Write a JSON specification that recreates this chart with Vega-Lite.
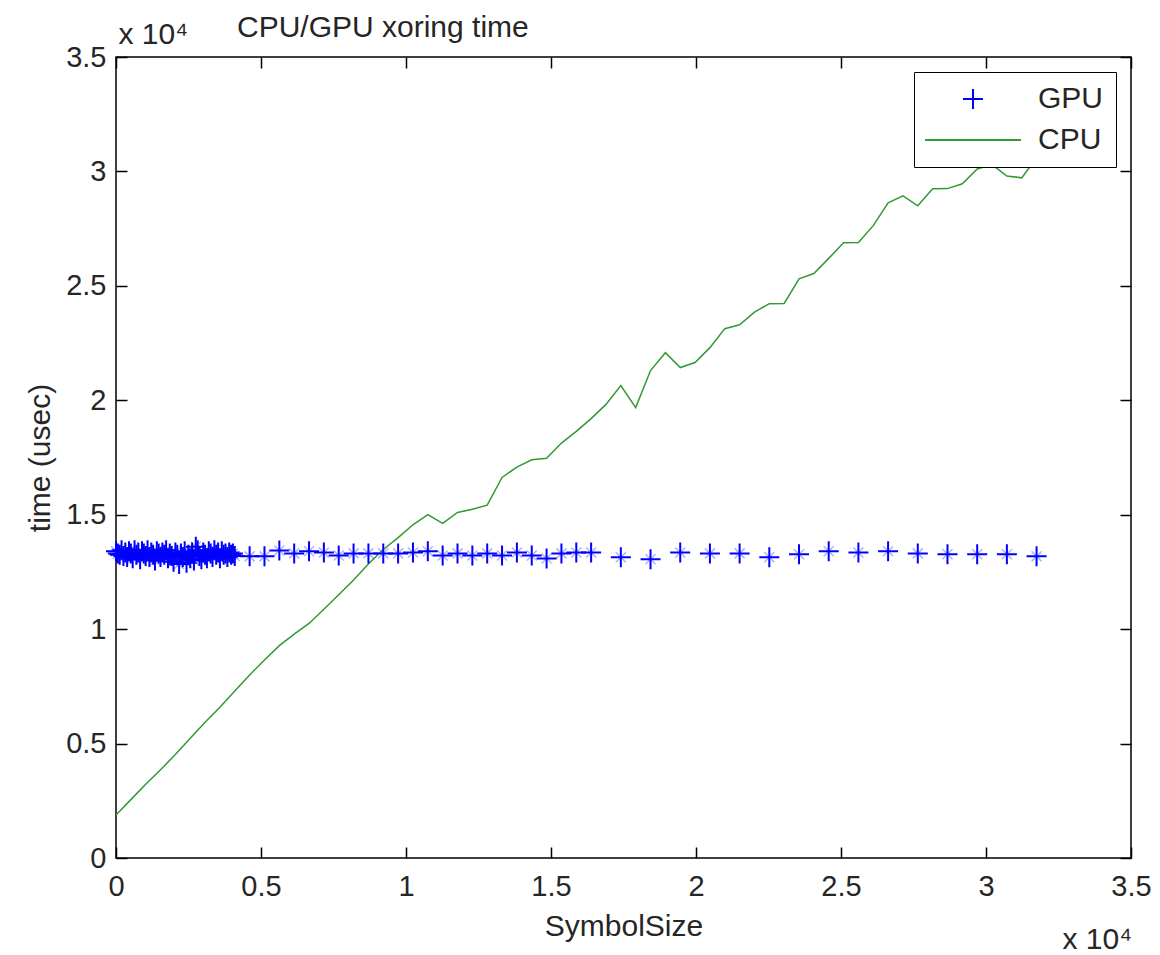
{
  "$schema": "https://vega.github.io/schema/vega-lite/v6.json",
  "width": 1015,
  "height": 801,
  "autosize": {"type": "none"},
  "padding": {"left": 116, "top": 57, "right": 29, "bottom": 97},
  "background": "white",
  "config": {
    "font": "Liberation Sans",
    "view": {"stroke": "black", "strokeWidth": 1.5},
    "axis": {
      "domain": false,
      "grid": false,
      "tickColor": "black",
      "tickWidth": 1.5,
      "tickSize": -11,
      "labelFlush": false,
      "labelFontSize": 29,
      "labelColor": "#262626",
      "titleFontSize": 30,
      "titleFontWeight": "normal",
      "titleColor": "#262626",
      "labelExpr": "datum.value / 10000"
    }
  },
  "title": {
    "text": "CPU/GPU xoring time",
    "anchor": "start",
    "frame": "group",
    "dx": 121,
    "dy": 28,
    "fontSize": 30,
    "fontWeight": "normal",
    "color": "#262626",
    "font": "Liberation Sans"
  },
  "datasets": {
    "gpu": [
      {"size": 0, "time": 13400, "series": "GPU"},
      {"size": 64, "time": 13300, "series": "GPU"},
      {"size": 128, "time": 13250, "series": "GPU"},
      {"size": 192, "time": 13450, "series": "GPU"},
      {"size": 256, "time": 13200, "series": "GPU"},
      {"size": 320, "time": 13350, "series": "GPU"},
      {"size": 384, "time": 13150, "series": "GPU"},
      {"size": 448, "time": 13400, "series": "GPU"},
      {"size": 512, "time": 13300, "series": "GPU"},
      {"size": 576, "time": 13100, "series": "GPU"},
      {"size": 640, "time": 13450, "series": "GPU"},
      {"size": 704, "time": 13250, "series": "GPU"},
      {"size": 768, "time": 13350, "series": "GPU"},
      {"size": 832, "time": 13050, "series": "GPU"},
      {"size": 896, "time": 13400, "series": "GPU"},
      {"size": 960, "time": 13300, "series": "GPU"},
      {"size": 1024, "time": 13200, "series": "GPU"},
      {"size": 1088, "time": 13450, "series": "GPU"},
      {"size": 1152, "time": 13150, "series": "GPU"},
      {"size": 1216, "time": 13350, "series": "GPU"},
      {"size": 1280, "time": 13250, "series": "GPU"},
      {"size": 1344, "time": 13000, "series": "GPU"},
      {"size": 1408, "time": 13400, "series": "GPU"},
      {"size": 1472, "time": 13300, "series": "GPU"},
      {"size": 1536, "time": 13150, "series": "GPU"},
      {"size": 1600, "time": 13350, "series": "GPU"},
      {"size": 1664, "time": 13250, "series": "GPU"},
      {"size": 1728, "time": 13450, "series": "GPU"},
      {"size": 1792, "time": 13100, "series": "GPU"},
      {"size": 1856, "time": 13300, "series": "GPU"},
      {"size": 1920, "time": 13200, "series": "GPU"},
      {"size": 1984, "time": 12950, "series": "GPU"},
      {"size": 2048, "time": 13350, "series": "GPU"},
      {"size": 2112, "time": 13250, "series": "GPU"},
      {"size": 2176, "time": 12850, "series": "GPU"},
      {"size": 2240, "time": 13300, "series": "GPU"},
      {"size": 2304, "time": 13150, "series": "GPU"},
      {"size": 2368, "time": 13400, "series": "GPU"},
      {"size": 2432, "time": 12900, "series": "GPU"},
      {"size": 2496, "time": 13250, "series": "GPU"},
      {"size": 2560, "time": 13100, "series": "GPU"},
      {"size": 2624, "time": 13350, "series": "GPU"},
      {"size": 2688, "time": 13000, "series": "GPU"},
      {"size": 2752, "time": 13600, "series": "GPU"},
      {"size": 2816, "time": 13450, "series": "GPU"},
      {"size": 2880, "time": 13200, "series": "GPU"},
      {"size": 2944, "time": 13050, "series": "GPU"},
      {"size": 3008, "time": 13350, "series": "GPU"},
      {"size": 3072, "time": 13250, "series": "GPU"},
      {"size": 3136, "time": 13100, "series": "GPU"},
      {"size": 3200, "time": 13400, "series": "GPU"},
      {"size": 3264, "time": 13300, "series": "GPU"},
      {"size": 3328, "time": 13150, "series": "GPU"},
      {"size": 3392, "time": 13450, "series": "GPU"},
      {"size": 3456, "time": 13250, "series": "GPU"},
      {"size": 3520, "time": 13350, "series": "GPU"},
      {"size": 3584, "time": 13100, "series": "GPU"},
      {"size": 3648, "time": 13400, "series": "GPU"},
      {"size": 3712, "time": 13250, "series": "GPU"},
      {"size": 3776, "time": 13300, "series": "GPU"},
      {"size": 3840, "time": 13150, "series": "GPU"},
      {"size": 3904, "time": 13350, "series": "GPU"},
      {"size": 3968, "time": 13250, "series": "GPU"},
      {"size": 4032, "time": 13300, "series": "GPU"},
      {"size": 4096, "time": 13200, "series": "GPU"},
      {"size": 4608, "time": 13180, "series": "GPU"},
      {"size": 5120, "time": 13180, "series": "GPU"},
      {"size": 5632, "time": 13440, "series": "GPU"},
      {"size": 6144, "time": 13310, "series": "GPU"},
      {"size": 6656, "time": 13400, "series": "GPU"},
      {"size": 7168, "time": 13350, "series": "GPU"},
      {"size": 7680, "time": 13220, "series": "GPU"},
      {"size": 8192, "time": 13310, "series": "GPU"},
      {"size": 8704, "time": 13310, "series": "GPU"},
      {"size": 9216, "time": 13310, "series": "GPU"},
      {"size": 9728, "time": 13310, "series": "GPU"},
      {"size": 10240, "time": 13350, "series": "GPU"},
      {"size": 10752, "time": 13400, "series": "GPU"},
      {"size": 11264, "time": 13220, "series": "GPU"},
      {"size": 11776, "time": 13310, "series": "GPU"},
      {"size": 12288, "time": 13220, "series": "GPU"},
      {"size": 12800, "time": 13310, "series": "GPU"},
      {"size": 13312, "time": 13220, "series": "GPU"},
      {"size": 13824, "time": 13350, "series": "GPU"},
      {"size": 14336, "time": 13220, "series": "GPU"},
      {"size": 14848, "time": 13090, "series": "GPU"},
      {"size": 15360, "time": 13310, "series": "GPU"},
      {"size": 15872, "time": 13350, "series": "GPU"},
      {"size": 16384, "time": 13350, "series": "GPU"},
      {"size": 17408, "time": 13140, "series": "GPU"},
      {"size": 18432, "time": 13050, "series": "GPU"},
      {"size": 19456, "time": 13350, "series": "GPU"},
      {"size": 20480, "time": 13310, "series": "GPU"},
      {"size": 21504, "time": 13310, "series": "GPU"},
      {"size": 22528, "time": 13140, "series": "GPU"},
      {"size": 23552, "time": 13270, "series": "GPU"},
      {"size": 24576, "time": 13400, "series": "GPU"},
      {"size": 25600, "time": 13350, "series": "GPU"},
      {"size": 26624, "time": 13400, "series": "GPU"},
      {"size": 27648, "time": 13310, "series": "GPU"},
      {"size": 28672, "time": 13270, "series": "GPU"},
      {"size": 29696, "time": 13270, "series": "GPU"},
      {"size": 30720, "time": 13270, "series": "GPU"},
      {"size": 31744, "time": 13180, "series": "GPU"}
    ],
    "cpu": [
      {"size": 0, "time": 1877, "series": "CPU"},
      {"size": 512, "time": 2550, "series": "CPU"},
      {"size": 1024, "time": 3220, "series": "CPU"},
      {"size": 1536, "time": 3860, "series": "CPU"},
      {"size": 2048, "time": 4520, "series": "CPU"},
      {"size": 2560, "time": 5230, "series": "CPU"},
      {"size": 3072, "time": 5930, "series": "CPU"},
      {"size": 3584, "time": 6590, "series": "CPU"},
      {"size": 4096, "time": 7300, "series": "CPU"},
      {"size": 4608, "time": 8000, "series": "CPU"},
      {"size": 5120, "time": 8650, "series": "CPU"},
      {"size": 5632, "time": 9280, "series": "CPU"},
      {"size": 6144, "time": 9780, "series": "CPU"},
      {"size": 6656, "time": 10250, "series": "CPU"},
      {"size": 7168, "time": 10870, "series": "CPU"},
      {"size": 7680, "time": 11500, "series": "CPU"},
      {"size": 8192, "time": 12150, "series": "CPU"},
      {"size": 8704, "time": 12850, "series": "CPU"},
      {"size": 9216, "time": 13480, "series": "CPU"},
      {"size": 9728, "time": 14000, "series": "CPU"},
      {"size": 10240, "time": 14560, "series": "CPU"},
      {"size": 10752, "time": 15000, "series": "CPU"},
      {"size": 11264, "time": 14620, "series": "CPU"},
      {"size": 11776, "time": 15100, "series": "CPU"},
      {"size": 12288, "time": 15240, "series": "CPU"},
      {"size": 12800, "time": 15420, "series": "CPU"},
      {"size": 13312, "time": 16630, "series": "CPU"},
      {"size": 13824, "time": 17080, "series": "CPU"},
      {"size": 14336, "time": 17400, "series": "CPU"},
      {"size": 14848, "time": 17470, "series": "CPU"},
      {"size": 15360, "time": 18130, "series": "CPU"},
      {"size": 15872, "time": 18640, "series": "CPU"},
      {"size": 16384, "time": 19200, "series": "CPU"},
      {"size": 16896, "time": 19820, "series": "CPU"},
      {"size": 17408, "time": 20640, "series": "CPU"},
      {"size": 17920, "time": 19680, "series": "CPU"},
      {"size": 18432, "time": 21300, "series": "CPU"},
      {"size": 18944, "time": 22080, "series": "CPU"},
      {"size": 19456, "time": 21430, "series": "CPU"},
      {"size": 19968, "time": 21650, "series": "CPU"},
      {"size": 20480, "time": 22300, "series": "CPU"},
      {"size": 20992, "time": 23130, "series": "CPU"},
      {"size": 21504, "time": 23300, "series": "CPU"},
      {"size": 22016, "time": 23850, "series": "CPU"},
      {"size": 22528, "time": 24220, "series": "CPU"},
      {"size": 23040, "time": 24230, "series": "CPU"},
      {"size": 23552, "time": 25310, "series": "CPU"},
      {"size": 24064, "time": 25540, "series": "CPU"},
      {"size": 24576, "time": 26200, "series": "CPU"},
      {"size": 25088, "time": 26880, "series": "CPU"},
      {"size": 25600, "time": 26890, "series": "CPU"},
      {"size": 26112, "time": 27630, "series": "CPU"},
      {"size": 26624, "time": 28630, "series": "CPU"},
      {"size": 27136, "time": 28930, "series": "CPU"},
      {"size": 27648, "time": 28500, "series": "CPU"},
      {"size": 28160, "time": 29240, "series": "CPU"},
      {"size": 28672, "time": 29250, "series": "CPU"},
      {"size": 29184, "time": 29460, "series": "CPU"},
      {"size": 29696, "time": 30110, "series": "CPU"},
      {"size": 30208, "time": 30300, "series": "CPU"},
      {"size": 30720, "time": 29800, "series": "CPU"},
      {"size": 31232, "time": 29720, "series": "CPU"},
      {"size": 31744, "time": 30600, "series": "CPU"}
    ]
  },
  "layer": [
    {
      "data": {"name": "cpu"},
      "mark": {"type": "line", "color": "#339933", "strokeWidth": 1.5},
      "encoding": {
        "x": {
          "field": "size", "type": "quantitative",
          "scale": {"domain": [0, 35000], "nice": false, "zero": false},
          "axis": {"orient": "bottom", "title": "SymbolSize", "values": [0, 5000, 10000, 15000, 20000, 25000, 30000, 35000], "labelPadding": 25, "titlePadding": 10}
        },
        "y": {
          "field": "time", "type": "quantitative",
          "scale": {"domain": [0, 35000], "nice": false, "zero": false},
          "axis": {"orient": "left", "title": "time (usec)", "values": [0, 5000, 10000, 15000, 20000, 25000, 30000, 35000], "labelPadding": 21, "titlePadding": 10}
        }
      }
    },
    {
      "data": {"name": "gpu"},
      "mark": {"type": "point", "filled": false, "strokeWidth": 1.5, "size": 400, "opacity": 0.3, "shape": "M-0.5,-0.5L0.5,0.5M-0.5,0.5L0.5,-0.5", "color": "#0000ff"},
      "encoding": {
        "x": {
          "field": "size", "type": "quantitative",
          "axis": {"orient": "top", "labels": false, "values": [0, 5000, 10000, 15000, 20000, 25000, 30000, 35000], "title": "x 10⁴", "titleX": 2, "titleY": -14, "titleAngle": 0, "titleAlign": "left", "titleBaseline": "alphabetic"}
        },
        "y": {
          "field": "time", "type": "quantitative",
          "axis": {"orient": "right", "labels": false, "values": [0, 5000, 10000, 15000, 20000, 25000, 30000, 35000], "title": "x 10⁴", "titleX": -69, "titleY": 891, "titleAngle": 0, "titleAlign": "left", "titleBaseline": "alphabetic"}
        }
      }
    },
    {
      "data": {"name": "gpu"},
      "mark": {"type": "point", "filled": false, "strokeWidth": 2, "size": 400, "opacity": 1},
      "encoding": {
        "x": {"field": "size", "type": "quantitative", "axis": null},
        "y": {"field": "time", "type": "quantitative", "axis": null},
        "color": {
          "field": "series", "type": "nominal",
          "scale": {"domain": ["GPU", "CPU"], "range": ["#0000ff", "#339933"]},
          "legend": {
            "title": null,
            "orient": "top-right",
            "offset": 15,
            "fillColor": "white",
            "strokeColor": "black",
            "padding": 12,
            "labelFontSize": 30,
            "labelColor": "#262626",
            "labelOffset": 50,
            "symbolOffset": 32,
            "symbolSize": 400,
            "symbolStrokeWidth": 2,
            "rowPadding": 11
          }
        },
        "shape": {
          "field": "series", "type": "nominal",
          "scale": {"domain": ["GPU", "CPU"], "range": ["M-1,0L1,0M0,-1L0,1", "M-4.8,0L4.8,0"]}
        }
      }
    }
  ],
  "resolve": {"axis": {"x": "independent", "y": "independent"}}
}
